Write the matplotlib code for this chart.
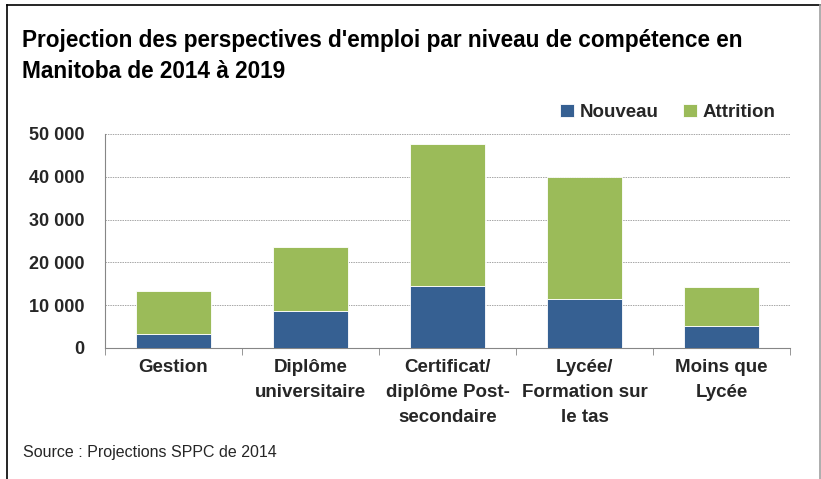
import numpy as np
import matplotlib.pyplot as plt
from matplotlib.lines import Line2D

plt.rcParams['font.family'] = ['Liberation Sans', 'DejaVu Sans']

# données
categories = ['Gestion', 'Diplôme\nuniversitaire', 'Certificat/\ndiplôme Post-\nsecondaire',
              'Lycée/\nFormation sur\nle tas', 'Moins que\nLycée']
nouveau = [3350, 8750, 14400, 11400, 5250]
attrition = [10000, 14900, 33200, 28600, 8900]
yticks = [0, 10000, 20000, 30000, 40000, 50000]

bleu = '#366092'
vert = '#9bbb59'
texte = '#262626'

W, H = 821, 479
fig = plt.figure(figsize=(W / 100, H / 100), dpi=100)
ax = fig.add_axes([105 / W, 1 - 348 / H, 685 / W, 214 / H])

x = np.arange(len(categories))
ax.bar(x, nouveau, width=0.55, color=bleu, edgecolor='white', linewidth=0.6, label='Nouveau', zorder=3)
ax.bar(x, attrition, width=0.55, bottom=nouveau, color=vert, edgecolor='white', linewidth=0.6,
       label='Attrition', zorder=3)

ax.set_xlim(-0.5, len(categories) - 0.5)
ax.set_ylim(0, 50000)
ax.set_yticks(yticks)
ax.set_yticklabels([f'{v:,}'.replace(',', ' ') for v in yticks], fontsize=13, fontweight='bold', color=texte)
ax.yaxis.grid(True, color='#a6a6a6', linewidth=0.7, linestyle=(0, (1.5, 1)), zorder=0)
ax.tick_params(axis='y', length=0, pad=15)

ax.set_xticks(x)
ax.set_xticklabels(categories, fontsize=13.5, fontweight='bold', linespacing=1.6, color=texte)
ax.tick_params(axis='x', length=0, pad=8)
ax.set_xticks(np.arange(len(categories) + 1) - 0.5, minor=True)
ax.tick_params(axis='x', which='minor', length=5, color='#868686')

for side in ['top', 'right']:
    ax.spines[side].set_visible(False)
for side in ['left', 'bottom']:
    ax.spines[side].set_color('#868686')

ax.legend(loc='lower right', bbox_to_anchor=(0.99, 1.025), ncol=2, frameon=False,
          prop={'weight': 'bold', 'size': 13.5}, labelcolor=texte, handlelength=0.75, handleheight=0.75,
          handletextpad=0.3, columnspacing=1.3, borderaxespad=0)

fig.text(22 / W, 1 - 40 / H, "Projection des perspectives d'emploi par niveau de compétence en",
         fontsize=16.3, fontweight='bold', va='center', color='black')
fig.text(22 / W, 1 - 72 / H, "Manitoba de 2014 à 2019",
         fontsize=16.3, fontweight='bold', va='center', color='black')
fig.text(23 / W, 1 - 453 / H, "Source : Projections SPPC de 2014", fontsize=11.5, va='center', color=texte)

# cadre autour du graphique
fig.lines.append(Line2D([7 / W, 820 / W], [1 - 5 / H, 1 - 5 / H], transform=fig.transFigure,
                        color='black', linewidth=1.2))
fig.lines.append(Line2D([7 / W, 7 / W], [0, 1 - 5 / H], transform=fig.transFigure,
                        color='black', linewidth=1.2))
fig.lines.append(Line2D([820 / W, 820 / W], [0, 1 - 5 / H], transform=fig.transFigure,
                        color='#a0a0a0', linewidth=1.2))

plt.savefig('out.png', dpi=100)
